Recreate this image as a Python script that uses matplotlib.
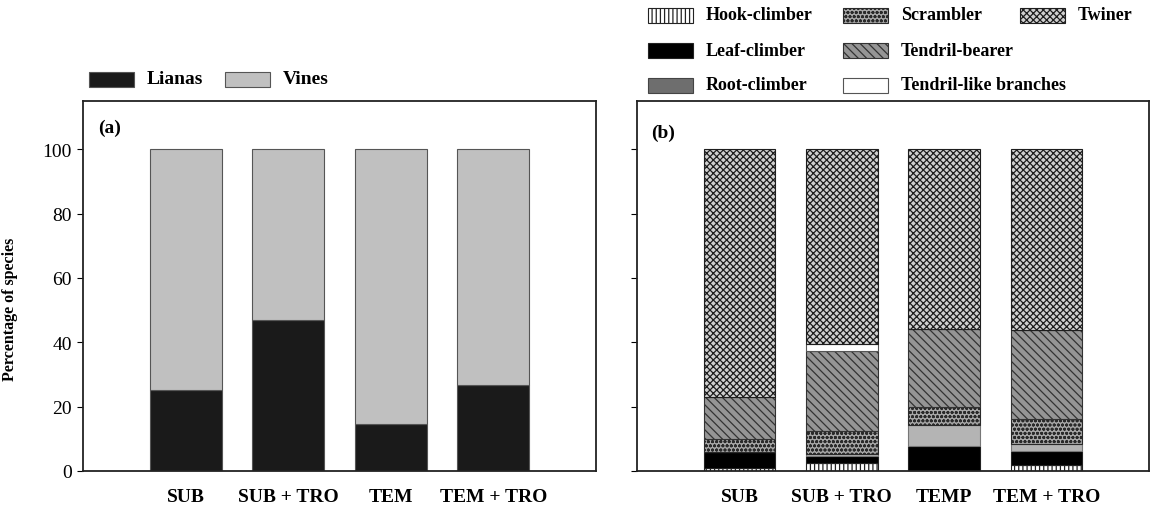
import matplotlib
matplotlib.use("Agg")
import matplotlib.pyplot as plt
from matplotlib.patches import Rectangle
import numpy as np

plt.rcParams['font.family'] = ['Liberation Serif', 'DejaVu Serif']
plt.rcParams['hatch.linewidth'] = 0.9

# panel (a): life form
groups_a = ["SUB", "SUB + TRO", "TEM", "TEM + TRO"]
lianas = [25.2, 47.0, 14.6, 26.7]
vines = [74.8, 53.0, 85.4, 73.3]

# panel (b): climbing mechanisms, stacked bottom -> top
groups_b = ["SUB", "SUB + TRO", "TEMP", "TEM + TRO"]
hook = [0.8, 2.5, 0.0, 2.0]
leaf = [5.0, 2.3, 7.7, 4.1]
root = [0.0, 0.5, 6.6, 2.3]
scrambler = [4.1, 7.2, 5.5, 7.7]
tendril = [13.0, 24.9, 24.3, 27.8]
tendril_like = [0.0, 2.0, 0.0, 0.0]
twiner = [77.1, 60.6, 55.9, 56.1]

W, H = 1151, 510
fig = plt.figure(figsize=(W / 100, H / 100), dpi=100)
ax1 = fig.add_axes([83 / W, 38 / H, 513 / W, 370 / H])
ax2 = fig.add_axes([637 / W, 38 / H, 512 / W, 370 / H])

x = np.arange(1, 5)
bw = 0.7

# ---- panel a
ax1.bar(x, lianas, bw, color='#1a1a1a', edgecolor='#555555', linewidth=0.8)
ax1.bar(x, vines, bw, bottom=lianas, color='#c0c0c0', edgecolor='#555555', linewidth=0.8)

# ---- panel b
styles = [
    ("Hook-climber", hook, dict(facecolor='white', edgecolor='#222222', hatch='||||')),
    ("Leaf-climber", leaf, dict(facecolor='black', edgecolor='#222222')),
    ("Root-climber", root, dict(facecolor='#b4b4b4', edgecolor='#777777')),
    ("Scrambler", scrambler, dict(facecolor='#a6a6a6', edgecolor='#2a2a2a', hatch='oooo')),
    ("Tendril-bearer", tendril, dict(facecolor='#959595', edgecolor='#333333', hatch='\\\\\\\\')),
    ("Tendril-like branches", tendril_like, dict(facecolor='white', edgecolor='#555555')),
    ("Twiner", twiner, dict(facecolor='#d0d0d0', edgecolor='#1e1e1e', hatch='xxxxx')),
]
bottom = np.zeros(4)
for name, vals, kw in styles:
    ax2.bar(x, vals, bw, bottom=bottom, linewidth=0.8, **kw)
    bottom += np.array(vals)

for ax, labs in [(ax1, groups_a), (ax2, groups_b)]:
    ax.set_xlim(0, 5)
    ax.set_ylim(0, 115)
    ax.set_yticks(range(0, 101, 20))
    ax.set_xticks(x)
    ax.set_xticklabels(labs, fontsize=14, fontweight='bold')
    ax.tick_params(axis='x', length=0, pad=12)
    ax.tick_params(axis='y', direction='out', length=4, width=0.8, labelsize=14, pad=4)
    for s in ax.spines.values():
        s.set_linewidth(1.3)
        s.set_color('#222222')

ax2.tick_params(axis='y', labelleft=False)
ax1.set_ylabel("Percentage of species", fontsize=11.5, fontweight='bold')
ax1.yaxis.set_label_coords(-0.127, 0.44)

fig.text(98 / W, 1 - 128 / H, "(a)", fontsize=14, fontweight='bold', va='center')
fig.text(651 / W, 1 - 133 / H, "(b)", fontsize=14, fontweight='bold', va='center')


# legend keys placed by hand (reference uses an irregular grid)
def key(xp, yp, label, size, **kw):
    fig.add_artist(Rectangle((xp / W, 1 - (yp + 7.5) / H), 45 / W, 15 / H,
                             transform=fig.transFigure, linewidth=0.8, **kw))
    fig.text((xp + 58) / W, 1 - yp / H, label, fontsize=size, fontweight='bold', va='center')


key(89, 80, "Lianas", 14, facecolor='#1a1a1a', edgecolor='#555555')
key(225, 80, "Vines", 14, facecolor='#c0c0c0', edgecolor='#555555')

leg_pos = {
    "Hook-climber": (648, 16), "Scrambler": (843, 16), "Twiner": (1020, 16),
    "Leaf-climber": (648, 51), "Tendril-bearer": (843, 51),
    "Root-climber": (648, 86), "Tendril-like branches": (843, 86),
}
for name, vals, kw in styles:
    kw = dict(kw)
    if name == "Root-climber":
        kw['facecolor'] = '#6e6e6e'
        kw['edgecolor'] = '#444444'
    key(*leg_pos[name], name, 13, **kw)

plt.savefig("out.png", dpi=100)
plt.close()
